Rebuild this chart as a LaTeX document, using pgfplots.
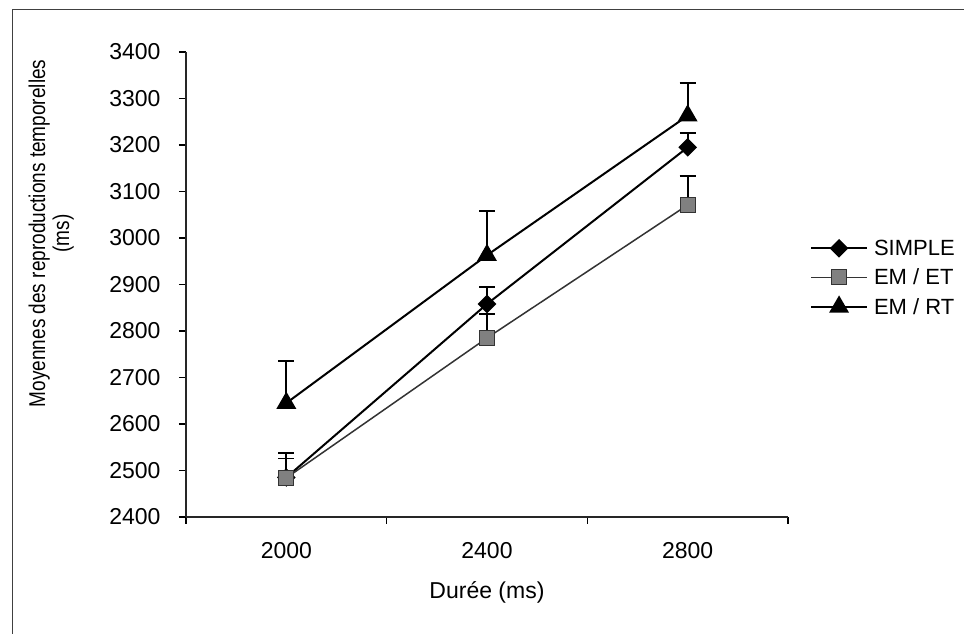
\documentclass[border=0pt]{standalone}
\usepackage{pgfplots}
\pgfplotsset{compat=1.18}
\usepackage{fontspec}
\setmainfont{Liberation Sans}

\definecolor{etfill}{gray}{0.5}
\definecolor{etline}{gray}{0.2}

\begin{document}
\begin{tikzpicture}
\useasboundingbox (0pt,0pt) rectangle (964pt,634pt);
% cadre du graphique (coupe a droite et en bas)
\draw[black!75, line width=1pt] (12pt,0pt) -- (12pt,624pt) -- (964pt,624pt);
\begin{axis}[
    at={(186pt,117pt)}, anchor=south west,
    scale only axis,
    width=602pt, height=465pt,
    axis lines*=left,
    axis line style={black!85, line width=1.3pt},
    xmin=-0.5, xmax=2.5,
    ymin=2400, ymax=3400,
    ytick distance=100,
    xtick={-0.5,0.5,1.5,2.5},
    xticklabels={},
    extra x ticks={0,1,2},
    extra x tick labels={2000,2400,2800},
    extra x tick style={major tick length=0pt},
    tick align=outside,
    major tick length=7pt,
    tick style={black, line width=1.2pt},
    /pgf/number format/assume math mode=true,
    /pgf/number format/1000 sep={},
    ticklabel style={font=\fontsize{23}{26}\selectfont},
    xticklabel style={yshift=-22pt},
    yticklabel style={xshift=-15pt},
    xlabel={Durée (ms)},
    xlabel style={font=\fontsize{23}{26}\selectfont, at={(axis description cs:0.5,0)}, anchor=center, yshift=-75pt},
    ylabel={\scalebox{1}[1.2]{\fontsize{19}{20}\selectfont\begin{tabular}{@{}c@{}}Moyennes des reproductions temporelles\\(ms)\end{tabular}}},
    ylabel style={at={(axis description cs:-0.222,0.61)}, anchor=center},
    legend style={draw=none, fill=none, font=\fontsize{22}{24}\selectfont,
        at={(axis description cs:1.033,0.605)}, anchor=north west,
        row sep=8pt, inner sep=2pt,
        nodes={inner xsep=6pt}},
    legend cell align=left,
    legend image code/.code={
        \draw[mark repeat=2,mark phase=2] plot coordinates {(0pt,0pt) (28pt,0pt) (56pt,0pt)};
    },
    error bars/y dir=plus,
    error bars/y explicit,
    error bars/error mark options={rotate=90, mark size=8pt, line width=1.8pt, black},
    error bars/error bar style={line width=1.8pt, black},
    clip=false,
]
% SIMPLE
\addplot[black, line width=2pt, mark=square*, mark size=5.6pt,
    mark options={rotate=45, fill=black, solid}]
    coordinates {(0,2485) +- (0,52) (1,2858) +- (0,37) (2,3195) +- (0,30)};
\addlegendentry{SIMPLE}
% EM / ET
\addplot[etline, line width=1.5pt, mark=square*, mark size=7.5pt,
    mark options={fill=etfill, draw=etline, line width=1pt, solid}]
    coordinates {(0,2484) +- (0,42) (1,2785) +- (0,52) (2,3071) +- (0,62)};
\addlegendentry{EM / ET}
% EM / RT
\addplot[black, line width=2pt, mark=triangle*, mark size=9.5pt,
    mark options={fill=black, solid}]
    coordinates {(0,2645) +- (0,90) (1,2963) +- (0,95) (2,3263) +- (0,70)};
\addlegendentry{EM / RT}
\end{axis}
\end{tikzpicture}
\end{document}
